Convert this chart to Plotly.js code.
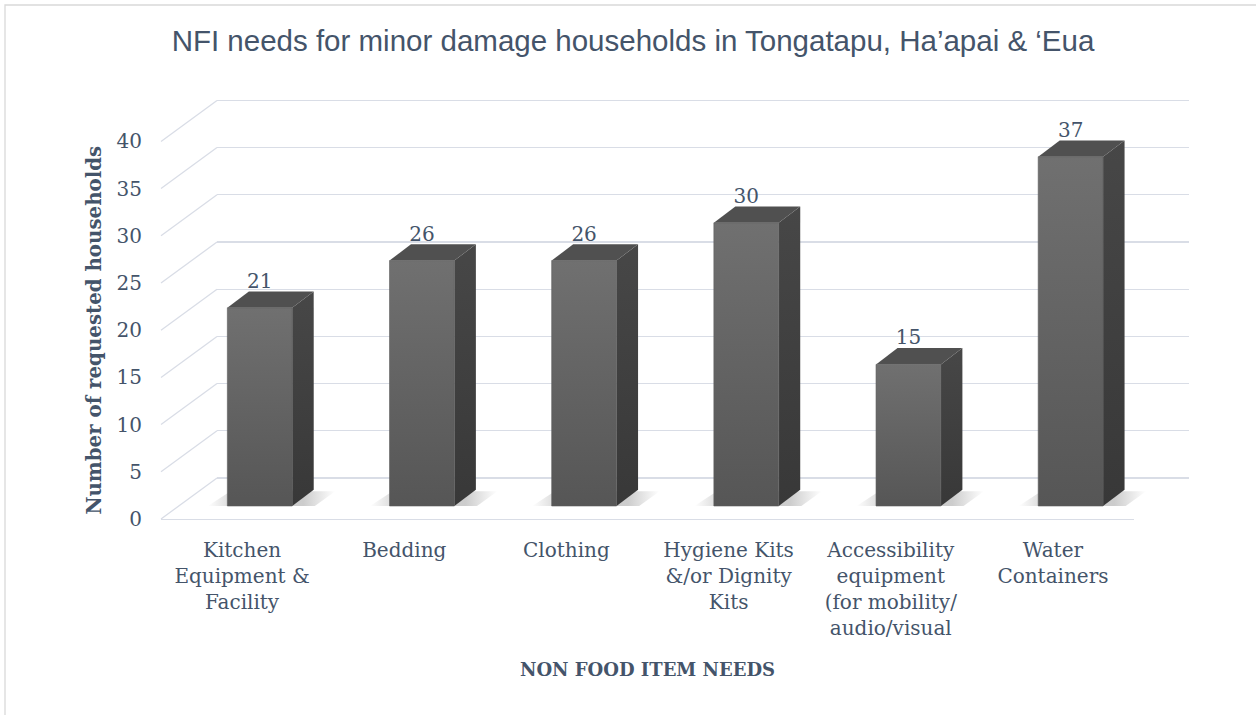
<!DOCTYPE html>
<html>
<head>
<meta charset="utf-8">
<script src="https://cdn.plot.ly/plotly-3.0.1.min.js"></script>
<style>html,body{margin:0;padding:0;background:#fff;}#chart{width:1256px;height:715px;}</style>
</head>
<body>
<div id="chart"></div>
<script>
// ---- data ----
const categories = [
  'Kitchen<br>Equipment &<br>Facility',
  'Bedding',
  'Clothing',
  'Hygiene Kits<br>&/or Dignity<br>Kits',
  'Accessibility<br>equipment<br>(for mobility/<br>audio/visual',
  'Water<br>Containers'
];
const values = [21, 26, 26, 30, 15, 37];
const yTickValues = [0, 5, 10, 15, 20, 25, 30, 35, 40];
const chartTitle = 'NFI needs for minor damage households in Tongatapu, Ha’apai & ‘Eua';
const yTitle = 'Number of requested households';
const xTitle = 'NON FOOD ITEM NEEDS';

// ---- geometry / style (pixels) ----
const W = 1256, H = 715;
const SCALE = 9.44;            // px per value unit
const CAT = 162.17;            // px per category
const FRONT_X = 161, FRONT_Y0 = 519;
const BACK_DX = 56, BACK_DY = 41;
const BAR_OX = 17.7, BAR_Y0 = 506;
const BAR_W = 0.40;
const BAR_DDX = 21.5 / CAT, BAR_DDY = 16.3 / SCALE;
const LABEL_OFF = 25 / SCALE;
const GRID = '#d9dde6';
const TEXT = '#44546a';
const SERIF = 'DejaVu Serif';

const fx = p => p / W;
const fy = p => 1 - p / H;
function xDom(px0, k, r) { return [fx(px0 + r[0] * k), fx(px0 + r[1] * k)]; }
function yDom(py0, k, r) { return [fy(py0 - r[0] * k), fy(py0 - r[1] * k)]; }

const traces = [];
const n = values.length;
const catIdx = values.map((_, i) => i);

// back wall (subplot 1)
traces.push({x: [0], y: [0], xaxis: 'x', yaxis: 'y', mode: 'markers', marker: {opacity: 0}, hoverinfo: 'skip', showlegend: false});
// front axes (subplot 2)
traces.push({x: catIdx, y: values.map(() => 0), xaxis: 'x2', yaxis: 'y2', mode: 'markers', marker: {opacity: 0}, hoverinfo: 'skip', showlegend: false});
// side-wall diagonals (subplot 3)
yTickValues.forEach(v => {
  traces.push({x: [0, 1], y: [v, v + BACK_DY / SCALE], xaxis: 'x3', yaxis: 'y3', mode: 'lines',
    line: {color: GRID, width: 1.3}, hoverinfo: 'skip', showlegend: false});
});
// bars (subplot 4)
const hw = BAR_W / 2;
values.forEach((v, i) => {
  const sp = 0.12;
  traces.push({
    x: [i - hw - sp, i + hw + sp * 0.5 + BAR_DDX * 0.6, i + hw + sp + BAR_DDX * 1.1, i - hw - sp * 0.5 + BAR_DDX * 0.6, i - hw - sp],
    y: [0, 0, BAR_DDY * 0.9, BAR_DDY * 0.9, 0],
    xaxis: 'x4', yaxis: 'y4', mode: 'none', fill: 'toself',
    fillgradient: {type: 'horizontal', colorscale: [[0, 'rgba(110,110,110,0)'], [0.25, 'rgba(110,110,110,0.35)'], [0.75, 'rgba(110,110,110,0.35)'], [1, 'rgba(110,110,110,0)']]},
    hoverinfo: 'skip', showlegend: false
  });
});
values.forEach((v, i) => {
  // side face
  traces.push({
    x: [i + hw, i + hw + BAR_DDX, i + hw + BAR_DDX, i + hw, i + hw],
    y: [0, BAR_DDY, v + BAR_DDY, v, 0],
    xaxis: 'x4', yaxis: 'y4', mode: 'none', fill: 'toself',
    fillgradient: {type: 'vertical', colorscale: [[0, '#383838'], [1, '#474747']]},
    hoverinfo: 'skip', showlegend: false
  });
  // top face
  traces.push({
    x: [i - hw, i - hw + BAR_DDX, i + hw + BAR_DDX, i + hw, i - hw],
    y: [v, v + BAR_DDY, v + BAR_DDY, v, v],
    xaxis: 'x4', yaxis: 'y4', mode: 'none', fill: 'toself', fillcolor: '#505050',
    hoverinfo: 'skip', showlegend: false
  });
  // front face
  traces.push({
    x: [i - hw, i + hw, i + hw, i - hw, i - hw],
    y: [0, 0, v, v, 0],
    xaxis: 'x4', yaxis: 'y4', mode: 'lines', fill: 'toself',
    line: {color: '#5c5c5c', width: 0.6},
    fillgradient: {type: 'vertical', colorscale: [[0, '#565656'], [1, '#707070']]},
    hoverinfo: 'skip', showlegend: false
  });
});
traces.push({
  x: catIdx, y: values.map(v => v + LABEL_OFF), text: values.map(String),
  xaxis: 'x4', yaxis: 'y4', mode: 'text', textposition: 'middle center', cliponaxis: false,
  textfont: {family: SERIF, size: 20, color: TEXT}, hoverinfo: 'skip', showlegend: false
});

const hidden = {showgrid: false, zeroline: false, showline: false, showticklabels: false, ticks: '', fixedrange: true};
const yBackR = [-0.5, 40.5];
const xBackR = [0, 1];
const y2R = [0, 40];
const x2R = [-0.5, n - 0.5];
const x3R = [-0.05, 1.05];
const y3R = [-0.5, 45];
const x4R = [-0.7, n - 0.2];
const y4R = [-1.5, 44];

const layout = {
  width: W, height: H,
  margin: {l: 0, r: 0, t: 0, b: 0, pad: 0},
  paper_bgcolor: '#ffffff', plot_bgcolor: 'rgba(0,0,0,0)',
  showlegend: false,
  title: {text: chartTitle, x: fx(633), xanchor: 'center', xref: 'paper', y: fy(41), yanchor: 'middle', yref: 'paper',
    font: {family: 'Liberation Sans', size: 29.5, color: TEXT}},
  xaxis: Object.assign({}, hidden, {domain: xDom(FRONT_X + BACK_DX, 1189 - FRONT_X - BACK_DX, xBackR), range: xBackR, anchor: 'y'}),
  yaxis: Object.assign({}, hidden, {domain: yDom(FRONT_Y0 - BACK_DY, SCALE, yBackR), range: yBackR, anchor: 'x',
    showgrid: true, gridcolor: GRID, gridwidth: 1.3, tickvals: yTickValues}),
  xaxis2: {domain: xDom(FRONT_X + CAT * 0.5, CAT, x2R), range: x2R, anchor: 'y2', fixedrange: true,
    tickvals: catIdx, ticktext: categories, ticks: '', showgrid: false, zeroline: false,
    showline: true, linecolor: GRID, linewidth: 1.3, ticklabelstandoff: 13,
    tickfont: {family: SERIF, size: 20, color: TEXT},
    title: {text: xTitle, standoff: 24, font: {family: SERIF, size: 18, color: TEXT, weight: 'bold'}}},
  yaxis2: {domain: yDom(FRONT_Y0, SCALE, y2R), range: y2R, anchor: 'x2', fixedrange: true,
    tickvals: yTickValues, ticks: '', showgrid: false, zeroline: false, showline: false,
    ticklabelstandoff: 18, tickfont: {family: SERIF, size: 20, color: TEXT},
    title: {text: yTitle, standoff: 9, font: {family: SERIF, size: 19.8, color: TEXT, weight: 'bold'}}},
  xaxis3: Object.assign({}, hidden, {domain: xDom(FRONT_X, BACK_DX, x3R), range: x3R, anchor: 'y3'}),
  yaxis3: Object.assign({}, hidden, {domain: yDom(FRONT_Y0, SCALE, y3R), range: y3R, anchor: 'x3'}),
  xaxis4: Object.assign({}, hidden, {domain: xDom(FRONT_X + CAT * 0.5 + BAR_OX, CAT, x4R), range: x4R, anchor: 'y4'}),
  yaxis4: Object.assign({}, hidden, {domain: yDom(BAR_Y0, SCALE, y4R), range: y4R, anchor: 'x4'}),
  shapes: [{type: 'rect', xref: 'paper', yref: 'paper', x0: fx(5), y0: fy(5), x1: 1.02, y1: -0.02,
    line: {color: '#d9d9d9', width: 1.3}, fillcolor: 'rgba(0,0,0,0)', layer: 'below'}]
};

Plotly.newPlot('chart', traces, layout, {displayModeBar: false, staticPlot: true});
</script>
</body>
</html>
